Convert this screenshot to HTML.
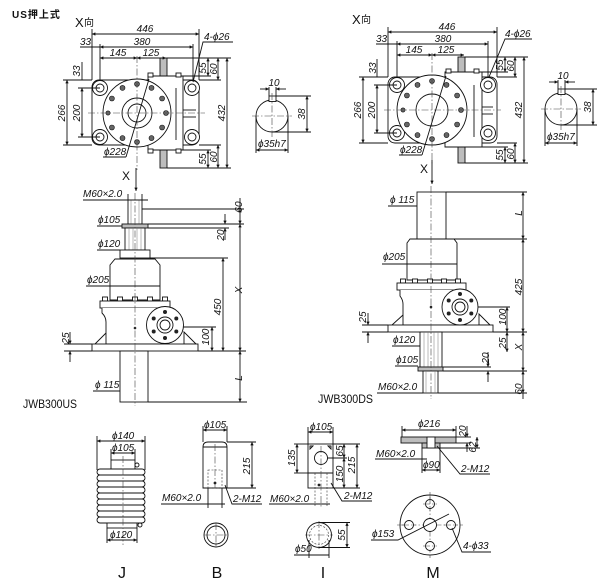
<!DOCTYPE html>
<html><head><meta charset="utf-8">
<style>
html,body{margin:0;padding:0;background:#fff}
svg{display:block}
.l{stroke:#111;stroke-width:0.9;fill:none}
.w{fill:#fff}
.g{fill:#bdbdbd}
.k{fill:#222}
.b{fill:#666;stroke:#111;stroke-width:0.6}
.h{stroke:#777;stroke-width:0.5;fill:none}
.c{stroke:#444;stroke-width:0.6;stroke-dasharray:7,2,1.5,2;fill:none}
.ds{stroke:#333;stroke-width:0.6;stroke-dasharray:2,1.5;fill:none}
text{font-family:"Liberation Sans","Noto Sans CJK SC",sans-serif;font-size:10px;font-style:italic;fill:#111}
.n{font-style:normal}
.d{marker-start:url(#a);marker-end:url(#a)}
.e{marker-end:url(#a)}
</style></head><body>
<svg width="601" height="579" viewBox="0 0 601 579" xmlns="http://www.w3.org/2000/svg">
<defs>
<marker id="a" viewBox="0 0 10 10" refX="10" refY="5" markerWidth="5" markerHeight="3.4" orient="auto-start-reverse" markerUnits="userSpaceOnUse"><path d="M0,0 L10,5 L0,10 z" fill="#111"/></marker>
</defs>

<!-- header -->
<text class="n" x="12" y="18" style="font-size:10px;font-weight:bold;letter-spacing:1px">US押上式</text>
<text class="n" x="75" y="27" style="font-size:13px">X</text><text class="n" x="84" y="26" style="font-size:10px">向</text>
<text class="n" x="352" y="24" style="font-size:13px">X</text><text class="n" x="361" y="23" style="font-size:10px">向</text>

<!-- ===== LEFT PLAN ===== -->
<g>
<rect class="l g" x="160" y="58" width="7" height="18"/>
<rect class="l g" x="160" y="150" width="7" height="18"/>
<rect class="l w" x="92" y="80" width="107" height="65" rx="7"/>
<path class="l w" d="M148,76 L183,76 L183,150 L148,150 Z"/>
<line class="l" x1="176" y1="88" x2="176" y2="140"/>
<line class="l" x1="183" y1="110" x2="196" y2="110"/>
<line class="l" x1="183" y1="117" x2="196" y2="117"/>
<rect class="l w" x="148" y="73" width="5" height="4"/>
<rect class="l w" x="176" y="73" width="5" height="4"/>
<rect class="l w" x="148" y="149" width="5" height="4"/>
<rect class="l w" x="176" y="149" width="5" height="4"/>
<g class="l w">
<circle cx="100" cy="88" r="7.5"/><circle cx="100" cy="88" r="4"/>
<circle cx="192" cy="88" r="7.5"/><circle cx="192" cy="88" r="4"/>
<circle cx="100" cy="137" r="7.5"/><circle cx="100" cy="137" r="4"/>
<circle cx="192" cy="137" r="7.5"/><circle cx="192" cy="137" r="4"/>
</g>
<circle class="l w" cx="137" cy="113" r="34"/>
<g class="b">
<circle cx="166" cy="113" r="2.5"/><circle cx="162.1" cy="98.5" r="2.5"/><circle cx="151.5" cy="87.9" r="2.5"/>
<circle cx="137" cy="84" r="2.5"/><circle cx="122.5" cy="87.9" r="2.5"/><circle cx="111.9" cy="98.5" r="2.5"/>
<circle cx="108" cy="113" r="2.1"/><circle cx="111.9" cy="127.5" r="2.5"/><circle cx="122.5" cy="138.1" r="2.5"/>
<circle cx="137" cy="142" r="2.5"/><circle cx="151.5" cy="138.1" r="2.5"/><circle cx="162.1" cy="127.5" r="2.5"/>
</g>
<circle class="l w" cx="137" cy="113" r="15"/>
<circle class="l w" cx="137" cy="113" r="9"/>
<line class="c" x1="88" y1="113" x2="205" y2="113"/>
<line class="c" x1="137" y1="56" x2="137" y2="170"/>
<!-- dims -->
<line class="l" x1="92" y1="29" x2="92" y2="80"/>
<line class="l" x1="199" y1="29" x2="199" y2="80"/>
<line class="l d" x1="92" y1="34" x2="199" y2="34"/>
<text x="145" y="32" text-anchor="middle">446</text>
<line class="l" x1="100" y1="44" x2="100" y2="81"/>
<line class="l" x1="193" y1="44" x2="193" y2="81"/>
<line class="l" x1="80" y1="47" x2="100" y2="47"/>
<line class="l d" x1="100" y1="47" x2="193" y2="47"/>
<text x="80" y="45">33</text>
<text x="142" y="45" text-anchor="middle">380</text>
<line class="l d" x1="100" y1="58" x2="137" y2="58"/>
<line class="l d" x1="137" y1="58" x2="166" y2="58"/>
<text x="118" y="56" text-anchor="middle">145</text>
<text x="151" y="56" text-anchor="middle">125</text>
<text x="204" y="40">4-ϕ26</text>
<polyline class="l" points="233,42 203,42 193,82"/>
<line class="l" x1="167" y1="58" x2="231" y2="58"/>
<line class="l" x1="183" y1="76" x2="211" y2="76"/>
<line class="l" x1="199" y1="80" x2="221" y2="80"/>
<line class="l d" x1="208" y1="58" x2="208" y2="76"/>
<line class="l d" x1="218" y1="58" x2="218" y2="80"/>
<text transform="translate(206,68) rotate(-90)" text-anchor="middle">55</text>
<text transform="translate(217,69) rotate(-90)" text-anchor="middle">60</text>
<line class="l" x1="167" y1="168" x2="231" y2="168"/>
<line class="l d" x1="227" y1="58" x2="227" y2="168"/>
<text transform="translate(225,113) rotate(-90)" text-anchor="middle">432</text>
<line class="l" x1="183" y1="150" x2="211" y2="150"/>
<line class="l" x1="199" y1="145" x2="221" y2="145"/>
<line class="l d" x1="208" y1="150" x2="208" y2="168"/>
<line class="l d" x1="218" y1="145" x2="218" y2="168"/>
<text transform="translate(206,159) rotate(-90)" text-anchor="middle">55</text>
<text transform="translate(217,157) rotate(-90)" text-anchor="middle">60</text>
<line class="l" x1="63" y1="80" x2="92" y2="80"/>
<line class="l" x1="63" y1="145" x2="92" y2="145"/>
<line class="l d" x1="67" y1="80" x2="67" y2="145"/>
<line class="l" x1="78" y1="88" x2="100" y2="88"/>
<line class="l" x1="78" y1="137" x2="100" y2="137"/>
<line class="l d" x1="82" y1="88" x2="82" y2="137"/>
<line class="l" x1="82" y1="62" x2="82" y2="80"/>
<text transform="translate(65,113) rotate(-90)" text-anchor="middle">266</text>
<text transform="translate(80,113) rotate(-90)" text-anchor="middle">200</text>
<text transform="translate(80,71) rotate(-90)" text-anchor="middle">33</text>
<text x="104" y="155">ϕ228</text>
<line class="l" x1="103" y1="157" x2="126" y2="157"/>
<line class="l" x1="126" y1="157" x2="149" y2="79"/>
</g>

<!-- ===== RIGHT PLAN ===== -->
<g transform="translate(296,-3)">
<rect class="l g" x="162" y="60" width="7" height="16"/>
<rect class="l g" x="162" y="150" width="7" height="16"/>
<rect class="l w" x="92" y="80" width="109" height="66" rx="7"/>
<path class="l w" d="M149,75 L186,75 L186,150 L149,150 Z"/>
<line class="l" x1="178" y1="88" x2="178" y2="140"/>
<line class="l" x1="186" y1="110" x2="197" y2="110"/>
<line class="l" x1="186" y1="117" x2="197" y2="117"/>
<rect class="l w" x="150" y="72" width="5" height="4"/>
<rect class="l w" x="178" y="72" width="5" height="4"/>
<g class="l w">
<circle cx="101" cy="88" r="7.5"/><circle cx="101" cy="88" r="4"/>
<circle cx="192" cy="88" r="7.5"/><circle cx="192" cy="88" r="4"/>
<circle cx="101" cy="136" r="7.5"/><circle cx="101" cy="136" r="4"/>
<circle cx="192" cy="136" r="7.5"/><circle cx="192" cy="136" r="4"/>
</g>
<circle class="l w" cx="136" cy="113" r="35"/>
<g class="b">
<circle cx="165" cy="113" r="2.5"/><circle cx="161.1" cy="98.5" r="2.5"/><circle cx="150.5" cy="87.9" r="2.5"/>
<circle cx="136" cy="84" r="2.5"/><circle cx="121.5" cy="87.9" r="2.5"/><circle cx="110.9" cy="98.5" r="2.5"/>
<circle cx="107" cy="113" r="2.1"/><circle cx="110.9" cy="127.5" r="2.5"/><circle cx="121.5" cy="138.1" r="2.5"/>
<circle cx="136" cy="142" r="2.5"/><circle cx="150.5" cy="138.1" r="2.5"/><circle cx="161.1" cy="127.5" r="2.5"/>
</g>
<circle class="l w" cx="136" cy="113" r="16"/>
<line class="c" x1="88" y1="113" x2="205" y2="113"/>
<line class="c" x1="136" y1="56" x2="136" y2="168"/>
<line class="l" x1="92" y1="30" x2="92" y2="80"/>
<line class="l" x1="201" y1="30" x2="201" y2="80"/>
<line class="l d" x1="92" y1="35" x2="201" y2="35"/>
<text x="151" y="33" text-anchor="middle">446</text>
<line class="l" x1="101" y1="44" x2="101" y2="81"/>
<line class="l" x1="192" y1="44" x2="192" y2="81"/>
<line class="l" x1="80" y1="47" x2="101" y2="47"/>
<line class="l d" x1="101" y1="47" x2="192" y2="47"/>
<text x="80" y="45">33</text>
<text x="147" y="45" text-anchor="middle">380</text>
<line class="l d" x1="101" y1="58" x2="136" y2="58"/>
<line class="l d" x1="136" y1="58" x2="168" y2="58"/>
<text x="118" y="56" text-anchor="middle">145</text>
<text x="150" y="56" text-anchor="middle">125</text>
<text x="209" y="40">4-ϕ26</text>
<polyline class="l" points="236,42 209,42 193,80"/>
<line class="l" x1="169" y1="60" x2="232" y2="60"/>
<line class="l" x1="186" y1="75" x2="212" y2="75"/>
<line class="l" x1="201" y1="80" x2="221" y2="80"/>
<line class="l d" x1="209" y1="60" x2="209" y2="75"/>
<line class="l d" x1="219" y1="60" x2="219" y2="80"/>
<text transform="translate(207,68) rotate(-90)" text-anchor="middle">55</text>
<text transform="translate(218,69) rotate(-90)" text-anchor="middle">60</text>
<line class="l" x1="169" y1="166" x2="232" y2="166"/>
<line class="l d" x1="228" y1="60" x2="228" y2="166"/>
<text transform="translate(226,113) rotate(-90)" text-anchor="middle">432</text>
<line class="l" x1="186" y1="150" x2="212" y2="150"/>
<line class="l" x1="201" y1="146" x2="221" y2="146"/>
<line class="l d" x1="209" y1="150" x2="209" y2="166"/>
<line class="l d" x1="219" y1="146" x2="219" y2="166"/>
<text transform="translate(207,158) rotate(-90)" text-anchor="middle">55</text>
<text transform="translate(218,157) rotate(-90)" text-anchor="middle">60</text>
<line class="l" x1="63" y1="80" x2="92" y2="80"/>
<line class="l" x1="63" y1="146" x2="92" y2="146"/>
<line class="l d" x1="67" y1="80" x2="67" y2="146"/>
<line class="l" x1="78" y1="88" x2="101" y2="88"/>
<line class="l" x1="78" y1="136" x2="101" y2="136"/>
<line class="l d" x1="81" y1="88" x2="81" y2="136"/>
<line class="l" x1="81" y1="62" x2="81" y2="80"/>
<text transform="translate(65,113) rotate(-90)" text-anchor="middle">266</text>
<text transform="translate(79,113) rotate(-90)" text-anchor="middle">200</text>
<text transform="translate(80,71) rotate(-90)" text-anchor="middle">33</text>
<text x="104" y="156">ϕ228</text>
<line class="l" x1="103" y1="158" x2="126" y2="158"/>
<line class="l" x1="126" y1="158" x2="150" y2="79"/>
</g>

<!-- ===== KEY VIEWS ===== -->
<g>
<circle class="l w" cx="272" cy="116" r="16"/>
<rect class="l w" x="269" y="96" width="7" height="5.5"/>
<line class="c" x1="252" y1="116" x2="292" y2="116"/>
<line class="c" x1="272" y1="93" x2="272" y2="137"/>
<line class="l" x1="269" y1="87" x2="269" y2="96"/>
<line class="l" x1="276" y1="87" x2="276" y2="96"/>
<line class="l e" x1="260" y1="89" x2="269" y2="89"/>
<line class="l e" x1="286" y1="89" x2="276" y2="89"/>
<text x="274" y="86" text-anchor="middle">10</text>
<line class="l" x1="276" y1="96" x2="311" y2="96"/>
<line class="l" x1="272" y1="132" x2="311" y2="132"/>
<line class="l d" x1="307" y1="96" x2="307" y2="132"/>
<text transform="translate(305,114) rotate(-90)" text-anchor="middle">38</text>
<line class="l" x1="256" y1="116" x2="256" y2="153"/>
<line class="l" x1="288" y1="116" x2="288" y2="153"/>
<line class="l d" x1="256" y1="150" x2="288" y2="150"/>
<text x="258" y="147">ϕ35h7</text>
</g>
<g transform="translate(289,-7)">
<circle class="l w" cx="272" cy="116" r="16"/>
<rect class="l w" x="269" y="96" width="7" height="5.5"/>
<line class="c" x1="252" y1="116" x2="292" y2="116"/>
<line class="c" x1="272" y1="93" x2="272" y2="137"/>
<line class="l" x1="269" y1="87" x2="269" y2="96"/>
<line class="l" x1="276" y1="87" x2="276" y2="96"/>
<line class="l e" x1="260" y1="89" x2="269" y2="89"/>
<line class="l e" x1="286" y1="89" x2="276" y2="89"/>
<text x="274" y="86" text-anchor="middle">10</text>
<line class="l" x1="276" y1="96" x2="308" y2="96"/>
<line class="l" x1="272" y1="132" x2="308" y2="132"/>
<line class="l d" x1="304" y1="96" x2="304" y2="132"/>
<text transform="translate(302,114) rotate(-90)" text-anchor="middle">38</text>
<line class="l" x1="256" y1="116" x2="256" y2="153"/>
<line class="l" x1="288" y1="116" x2="288" y2="153"/>
<line class="l d" x1="256" y1="150" x2="288" y2="150"/>
<text x="258" y="147">ϕ35h7</text>
</g>

<!-- ===== LEFT JACK (US) ===== -->
<g>
<text class="n" x="122" y="180" style="font-size:12px">X</text>
<line class="l e" x1="136" y1="168" x2="136" y2="191"/>
<rect class="l w" x="128" y="200" width="14" height="24"/>
<line class="h" x1="131" y1="200" x2="131" y2="224"/>
<line class="h" x1="139" y1="200" x2="139" y2="224"/>
<rect class="l g" x="122" y="224" width="26" height="4"/>
<rect class="l w" x="125" y="228" width="20" height="22"/>
<line class="h" x1="129" y1="228" x2="129" y2="250"/><line class="h" x1="133" y1="228" x2="133" y2="250"/>
<line class="h" x1="137" y1="228" x2="137" y2="250"/><line class="h" x1="141" y1="228" x2="141" y2="250"/>
<rect class="l w" x="120" y="250" width="30" height="8"/>
<path class="l w" d="M115,259 L155,259 L160,265 L160,300 L110,300 L110,265 Z"/>
<g class="l w">
<rect x="102.5" y="297" width="5" height="4"/><rect x="117.5" y="297" width="5" height="4"/>
<rect x="132.5" y="297" width="5" height="4"/><rect x="147.5" y="297" width="5" height="4"/>
<rect x="162.5" y="297" width="5" height="4"/>
</g>
<rect class="l w" x="100" y="301" width="70" height="7"/>
<path class="l w" d="M102,308 L102,313 Q106,317 106,322 L106,344 L168,344 L168,308"/>
<path class="l" d="M95,344 L106,333"/>
<path class="l w" d="M196,344 L184,332 L184,344 Z"/>
<rect class="l w" x="92" y="344" width="106" height="7"/>
<circle class="l w" cx="165" cy="325" r="18.5"/>
<circle class="l w" cx="165" cy="325" r="8"/>
<circle class="l w" cx="165" cy="325" r="5"/>
<g class="k">
<circle cx="165" cy="312" r="2"/><circle cx="176.3" cy="318.5" r="2"/><circle cx="176.3" cy="331.5" r="2"/>
<circle cx="165" cy="338" r="2"/><circle cx="153.7" cy="331.5" r="2"/><circle cx="153.7" cy="318.5" r="2"/>
</g>
<circle cx="135" cy="328" r="1.3" class="k"/>
<rect class="l w" x="120" y="351" width="28" height="51"/>
<line class="c" x1="135" y1="193" x2="135" y2="406"/>
<!-- dims -->
<text x="83" y="197">M60×2.0</text>
<line class="l" x1="83" y1="200" x2="148" y2="200"/>
<line class="l" x1="128" y1="194" x2="128" y2="200"/>
<line class="l" x1="142" y1="194" x2="142" y2="200"/>
<line class="l" x1="142" y1="209" x2="244" y2="209"/>
<line class="l" x1="148" y1="224" x2="244" y2="224"/>
<line class="l" x1="148" y1="228" x2="229" y2="228"/>
<line class="l" x1="150" y1="258" x2="228" y2="258"/>
<line class="l" x1="183" y1="327" x2="216" y2="327"/>
<line class="l" x1="198" y1="351" x2="246" y2="351"/>
<line class="l" x1="64" y1="351" x2="92" y2="351"/>
<line class="l" x1="64" y1="344" x2="92" y2="344"/>
<line class="l" x1="148" y1="402" x2="247" y2="402"/>
<line class="l d" x1="240" y1="209" x2="240" y2="224"/>
<line class="l d" x1="240" y1="224" x2="240" y2="351"/>
<line class="l d" x1="240" y1="351" x2="240" y2="402"/>
<line class="l" x1="240" y1="198" x2="240" y2="209"/>
<line class="l e" x1="225" y1="214" x2="225" y2="224"/>
<line class="l e" x1="225" y1="240" x2="225" y2="228"/>
<line class="l d" x1="223" y1="258" x2="223" y2="351"/>
<line class="l d" x1="212" y1="327" x2="212" y2="351"/>
<line class="l e" x1="70" y1="332" x2="70" y2="344"/>
<line class="l e" x1="70" y1="362" x2="70" y2="351"/>
<text transform="translate(242,207) rotate(-90)" text-anchor="middle">60</text>
<text transform="translate(224,235) rotate(-90)" text-anchor="middle">20</text>
<text transform="translate(242,290) rotate(-90)" text-anchor="middle">X</text>
<text transform="translate(221,307) rotate(-90)" text-anchor="middle">450</text>
<text transform="translate(209,337) rotate(-90)" text-anchor="middle">100</text>
<text transform="translate(69,338) rotate(-90)" text-anchor="middle">25</text>
<text transform="translate(242,378) rotate(-90)" text-anchor="middle">L</text>
<text x="98" y="223">ϕ105</text>
<line class="l" x1="97" y1="226" x2="122" y2="226"/>
<text x="98" y="247">ϕ120</text>
<line class="l" x1="97" y1="250" x2="120" y2="250"/>
<text x="87" y="283">ϕ205</text>
<line class="l" x1="86" y1="286" x2="160" y2="286"/>
<text x="95" y="388">ϕ 115</text>
<line class="l" x1="93" y1="391" x2="120" y2="391"/>
<text class="n" x="23" y="408" style="font-size:12px" textLength="54" lengthAdjust="spacingAndGlyphs">JWB300US</text>
</g>

<!-- ===== RIGHT JACK (DS) ===== -->
<g>
<text class="n" x="420" y="173" style="font-size:12px">X</text>
<line class="l e" x1="432" y1="160" x2="432" y2="184"/>
<rect class="l w" x="417" y="192" width="29" height="47"/>
<path class="l w" d="M410,239 L454,239 L457,243 L457,280 L407,280 L407,243 Z"/>
<g class="l w">
<rect x="400.5" y="279" width="5" height="4"/><rect x="412.5" y="279" width="5" height="4"/>
<rect x="427.5" y="279" width="5" height="4"/><rect x="441.5" y="279" width="5" height="4"/>
<rect x="455.5" y="279" width="5" height="4"/>
</g>
<rect class="l w" x="397" y="283" width="69" height="7"/>
<path class="l w" d="M400,290 L400,296 Q403,300 403,304 L403,325 L466,325 L466,290"/>
<path class="l" d="M392,325 L403,315"/>
<path class="l w" d="M490,325 L479,314 L479,325 Z"/>
<rect class="l w" x="388" y="325" width="105" height="7"/>
<circle class="l w" cx="460" cy="307" r="18"/>
<circle class="l w" cx="460" cy="307" r="8"/>
<circle class="l w" cx="460" cy="307" r="5"/>
<g class="k">
<circle cx="460" cy="294" r="2"/><circle cx="471.3" cy="300.5" r="2"/><circle cx="471.3" cy="313.5" r="2"/>
<circle cx="460" cy="320" r="2"/><circle cx="448.7" cy="313.5" r="2"/><circle cx="448.7" cy="300.5" r="2"/>
</g>
<circle cx="431" cy="307" r="1.3" class="k"/>
<rect class="l w" x="420" y="332" width="22" height="35"/>
<line class="h" x1="424" y1="332" x2="424" y2="367"/><line class="h" x1="428" y1="332" x2="428" y2="367"/>
<line class="h" x1="434" y1="332" x2="434" y2="367"/><line class="h" x1="438" y1="332" x2="438" y2="367"/>
<rect class="l g" x="418" y="367" width="25" height="4"/>
<rect class="l w" x="423" y="371" width="15" height="22"/>
<line class="h" x1="426" y1="371" x2="426" y2="393"/><line class="h" x1="435" y1="371" x2="435" y2="393"/>
<line class="c" x1="431" y1="186" x2="431" y2="399"/>
<!-- dims -->
<line class="l" x1="446" y1="192" x2="527" y2="192"/>
<line class="l" x1="446" y1="239" x2="527" y2="239"/>
<line class="l" x1="478" y1="307" x2="510" y2="307"/>
<line class="l" x1="493" y1="332" x2="527" y2="332"/>
<line class="l" x1="362" y1="325" x2="388" y2="325"/>
<line class="l" x1="362" y1="332" x2="388" y2="332"/>
<line class="l" x1="443" y1="371" x2="527" y2="371"/>
<line class="l" x1="438" y1="393" x2="527" y2="393"/>
<line class="l d" x1="523" y1="192" x2="523" y2="239"/>
<line class="l d" x1="523" y1="239" x2="523" y2="332"/>
<line class="l d" x1="523" y1="332" x2="523" y2="371"/>
<line class="l d" x1="523" y1="371" x2="523" y2="393"/>
<line class="l" x1="523" y1="393" x2="523" y2="399"/>
<line class="l d" x1="507" y1="307" x2="507" y2="332"/>
<line class="l d" x1="507" y1="332" x2="507" y2="352"/>
<line class="l e" x1="488" y1="352" x2="488" y2="367"/>
<line class="l e" x1="488" y1="382" x2="488" y2="371"/>
<line class="l" x1="443" y1="367" x2="491" y2="367"/>
<line class="l e" x1="368" y1="313" x2="368" y2="325"/>
<line class="l e" x1="368" y1="343" x2="368" y2="332"/>
<text transform="translate(522,213) rotate(-90)" text-anchor="middle">L</text>
<text transform="translate(522,287) rotate(-90)" text-anchor="middle">425</text>
<text transform="translate(522,347) rotate(-90)" text-anchor="middle">X</text>
<text transform="translate(522,389) rotate(-90)" text-anchor="middle">60</text>
<text transform="translate(506,317) rotate(-90)" text-anchor="middle">100</text>
<text transform="translate(506,343) rotate(-90)" text-anchor="middle">25</text>
<text transform="translate(489,358) rotate(-90)" text-anchor="middle">20</text>
<text transform="translate(366,317) rotate(-90)" text-anchor="middle">25</text>
<text x="390" y="203">ϕ 115</text>
<line class="l" x1="388" y1="206" x2="417" y2="206"/>
<text x="383" y="260">ϕ205</text>
<line class="l" x1="382" y1="264" x2="457" y2="264"/>
<text x="393" y="343">ϕ120</text>
<line class="l" x1="392" y1="346" x2="420" y2="346"/>
<text x="396" y="363">ϕ105</text>
<line class="l" x1="395" y1="366" x2="418" y2="366"/>
<text x="378" y="390">M60×2.0</text>
<line class="l" x1="377" y1="393" x2="423" y2="393"/>
<text class="n" x="318" y="403" style="font-size:12px" textLength="55" lengthAdjust="spacingAndGlyphs">JWB300DS</text>
</g>

<!-- ===== J ===== -->
<g>
<line class="l" x1="97" y1="436" x2="97" y2="470"/>
<line class="l" x1="145" y1="436" x2="145" y2="470"/>
<line class="l d" x1="97" y1="441" x2="145" y2="441"/>
<text x="112" y="439">ϕ140</text>
<line class="l" x1="111" y1="449" x2="111" y2="460"/>
<line class="l" x1="135" y1="449" x2="135" y2="460"/>
<line class="l d" x1="111" y1="453" x2="135" y2="453"/>
<text x="112" y="451">ϕ105</text>
<rect class="l w" x="111" y="460" width="24" height="9"/>
<circle class="l w" cx="137" cy="465" r="2"/>
<g class="l w">
<rect x="97" y="469" width="48" height="6" rx="3"/>
<rect x="97" y="475" width="48" height="6" rx="3"/>
<rect x="97" y="481" width="48" height="6" rx="3"/>
<rect x="97" y="487" width="48" height="6" rx="3"/>
<rect x="97" y="493" width="48" height="6" rx="3"/>
<rect x="97" y="499" width="48" height="6" rx="3"/>
<rect x="97" y="505" width="48" height="6" rx="3"/>
<rect x="97" y="511" width="48" height="6" rx="3"/>
<rect x="97" y="517" width="48" height="6" rx="3"/>
</g>
<rect class="l w" x="107" y="523" width="30" height="5"/>
<circle class="l w" cx="140" cy="525" r="2"/>
<line class="c" x1="123" y1="456" x2="123" y2="545"/>
<line class="l" x1="107" y1="528" x2="107" y2="543"/>
<line class="l" x1="137" y1="528" x2="137" y2="543"/>
<line class="l d" x1="107" y1="540" x2="137" y2="540"/>
<text x="110" y="538">ϕ120</text>
<text class="n" x="122" y="578" style="font-size:16px" text-anchor="middle">J</text>
</g>

<!-- ===== B ===== -->
<g>
<line class="l" x1="203" y1="426" x2="203" y2="442"/>
<line class="l" x1="227" y1="426" x2="227" y2="442"/>
<line class="l d" x1="203" y1="430" x2="227" y2="430"/>
<text x="204" y="428">ϕ105</text>
<path class="l w" d="M203,447 Q203,442 208,442 L222,442 Q227,442 227,447 L227,488 L203,488 Z"/>
<line class="l" x1="203" y1="447" x2="227" y2="447"/>
<rect class="ds" x="208" y="470" width="14" height="18"/>
<line class="c" x1="215" y1="444" x2="215" y2="490"/>
<circle class="k" cx="215" cy="483" r="1.4"/>
<line class="l" x1="227" y1="442" x2="256" y2="442"/>
<line class="l" x1="227" y1="488" x2="256" y2="488"/>
<line class="l d" x1="252" y1="442" x2="252" y2="488"/>
<text transform="translate(250,466) rotate(-90)" text-anchor="middle">215</text>
<text x="162" y="501">M60×2.0</text>
<line class="l" x1="161" y1="504" x2="225" y2="504"/>
<line class="l" x1="208" y1="488" x2="208" y2="508"/>
<line class="l" x1="222" y1="488" x2="222" y2="508"/>
<polyline class="l" points="225,485 232,504 262,504"/>
<text x="233" y="502">2-M12</text>
<circle class="l w" cx="216" cy="535" r="12"/>
<circle class="l w" cx="216" cy="535" r="9"/>
<line class="c" x1="204" y1="535" x2="228" y2="535"/>
<line class="c" x1="216" y1="523" x2="216" y2="547"/>
<text class="n" x="217" y="578" style="font-size:16px" text-anchor="middle">B</text>
</g>

<!-- ===== I ===== -->
<g>
<line class="l" x1="308" y1="427" x2="308" y2="444"/>
<line class="l" x1="333" y1="427" x2="333" y2="444"/>
<line class="l d" x1="308" y1="432" x2="333" y2="432"/>
<text x="310" y="430">ϕ105</text>
<rect class="l w" x="308" y="444" width="25" height="44"/>
<path class="l" d="M310,446 L313,446 L310,449 Z M331,446 L328,446 L331,449 Z"/>
<circle class="l w" cx="321" cy="458" r="6.5"/>
<line class="l" x1="308" y1="473" x2="333" y2="473"/>
<line class="ds" x1="315" y1="473" x2="315" y2="506"/>
<line class="ds" x1="327" y1="473" x2="327" y2="506"/>
<line class="c" x1="321" y1="446" x2="321" y2="508"/>
<circle class="k" cx="319" cy="485" r="1.4"/>
<line class="l" x1="294" y1="444" x2="308" y2="444"/>
<line class="l" x1="294" y1="473" x2="308" y2="473"/>
<line class="l d" x1="297" y1="444" x2="297" y2="473"/>
<text transform="translate(295,458) rotate(-90)" text-anchor="middle">135</text>
<line class="l" x1="333" y1="444" x2="360" y2="444"/>
<line class="l" x1="327" y1="458" x2="347" y2="458"/>
<line class="l" x1="333" y1="488" x2="360" y2="488"/>
<line class="l d" x1="344" y1="444" x2="344" y2="458"/>
<line class="l d" x1="344" y1="458" x2="344" y2="488"/>
<line class="l d" x1="357" y1="444" x2="357" y2="488"/>
<text transform="translate(343,451) rotate(-90)" text-anchor="middle">65</text>
<text transform="translate(343,474) rotate(-90)" text-anchor="middle">150</text>
<text transform="translate(355,465) rotate(-90)" text-anchor="middle">215</text>
<text x="270" y="502">M60×2.0</text>
<line class="l" x1="269" y1="504" x2="330" y2="504"/>
<polyline class="l" points="331,483 342,501 372,501"/>
<text x="344" y="499">2-M12</text>
<circle class="l w" cx="319" cy="535" r="12.5"/>
<circle class="ds" cx="319" cy="535" r="9.5"/>
<line class="c" x1="305" y1="535" x2="333" y2="535"/>
<line class="c" x1="319" y1="521" x2="319" y2="549"/>
<line class="l" x1="319" y1="522.5" x2="350" y2="522.5"/>
<line class="l" x1="319" y1="547.5" x2="350" y2="547.5"/>
<line class="l d" x1="347" y1="522.5" x2="347" y2="547.5"/>
<text transform="translate(345,535) rotate(-90)" text-anchor="middle">55</text>
<line class="l" x1="309" y1="540" x2="309" y2="558"/>
<line class="l" x1="329" y1="540" x2="329" y2="558"/>
<text x="295" y="552">ϕ50</text>
<line class="l" x1="294" y1="555" x2="329" y2="555"/>
<text class="n" x="323" y="578" style="font-size:16px" text-anchor="middle">I</text>
</g>

<!-- ===== M ===== -->
<g>
<line class="l" x1="402" y1="426" x2="402" y2="437"/>
<line class="l" x1="456" y1="426" x2="456" y2="437"/>
<line class="l d" x1="402" y1="430" x2="456" y2="430"/>
<text x="418" y="427">ϕ216</text>
<rect class="l g" x="401" y="437" width="55" height="6"/>
<rect class="l g" x="422" y="443" width="18" height="5"/>
<rect class="l w" x="427" y="437" width="8" height="11"/>
<line class="l" x1="456" y1="437" x2="471" y2="437"/>
<line class="l" x1="456" y1="443" x2="471" y2="443"/>
<line class="l" x1="440" y1="448" x2="480" y2="448"/>
<line class="l e" x1="467" y1="426" x2="467" y2="437"/>
<line class="l e" x1="467" y1="452" x2="467" y2="443"/>
<line class="l d" x1="477" y1="437" x2="477" y2="448"/>
<text transform="translate(466,431) rotate(-90)" text-anchor="middle">20</text>
<text transform="translate(476,447) rotate(-90)" text-anchor="middle">62</text>
<text x="376" y="457">M60×2.0</text>
<line class="l" x1="375" y1="459" x2="427" y2="459"/>
<line class="l" x1="422" y1="448" x2="422" y2="473"/>
<line class="l" x1="440" y1="448" x2="440" y2="473"/>
<line class="l d" x1="422" y1="470" x2="440" y2="470"/>
<text x="423" y="468">ϕ90</text>
<polyline class="l" points="437,446 460,474 490,474"/>
<text x="461" y="472">2-M12</text>
<circle class="l w" cx="430" cy="525" r="30"/>
<line class="c" x1="397" y1="525" x2="463" y2="525"/>
<line class="c" x1="430" y1="492" x2="430" y2="558"/>
<circle class="l w" cx="430" cy="525" r="6.5"/>
<g class="l w">
<circle cx="430" cy="504" r="4.5"/><circle cx="430" cy="546" r="4.5"/>
<circle cx="409" cy="525" r="4.5"/><circle cx="451" cy="525" r="4.5"/>
</g>
<line class="c" x1="430" y1="497" x2="430" y2="511"/>
<line class="c" x1="423" y1="504" x2="437" y2="504"/>
<line class="c" x1="423" y1="546" x2="437" y2="546"/>
<line class="c" x1="402" y1="525" x2="416" y2="525"/>
<line class="c" x1="444" y1="525" x2="458" y2="525"/>
<text x="372" y="537">ϕ153</text>
<polyline class="l" points="371,540 398,540 449,514"/>
<polyline class="l" points="452,528 462,552 491,552"/>
<text x="463" y="549">4-ϕ33</text>
<text class="n" x="433" y="578" style="font-size:16px" text-anchor="middle">M</text>
</g>
</svg>
</body></html>
